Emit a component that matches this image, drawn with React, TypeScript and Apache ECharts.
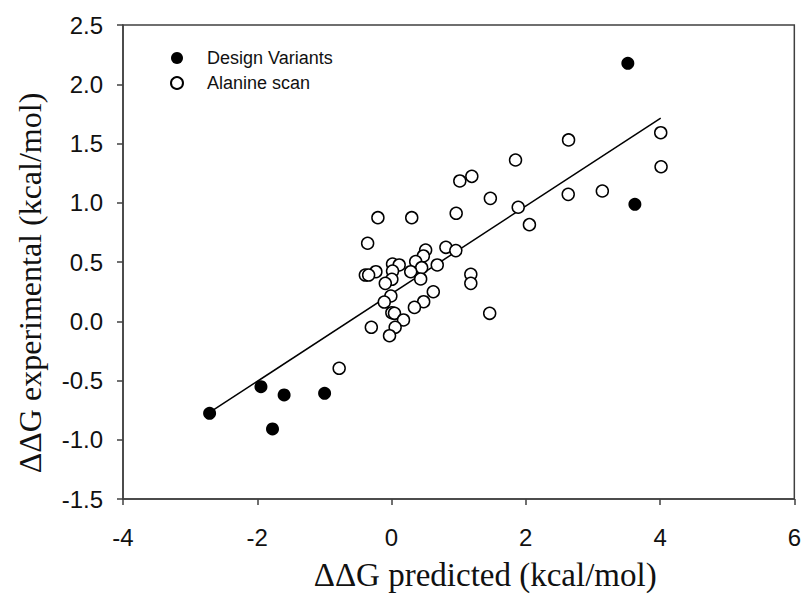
import React, { useEffect, useRef } from "react";
import * as echarts from "echarts";

const designX = [-2.71, -1.945, -1.6, -1.773, -0.997, 3.52, 3.625];
const designY = [-0.777, -0.552, -0.622, -0.909, -0.608, 2.177, 0.987];

const alanineX = [
  2.637, 4.01, 4.015, 2.632, 3.14, 1.847, 1.017, 1.196, 1.472, 1.887, 2.054,
  -0.203, 0.301, 0.963, -0.356, 0.508, 0.474, 0.81, 0.958, 0.36, 0.449, 0.681,
  0.286, 0.434, 0.015, 0.114, -0.233, 0.015, 0.005, -0.39, -0.341, -0.093,
  1.181, 1.181, -0.01, -0.108, 0.622, 0.479, 0.341, 0.005, 0.044, 0.178,
  -0.301, 0.054, -0.03, 1.462, -0.78,
];
const alanineY = [
  1.53, 1.591, 1.304, 1.071, 1.099, 1.361, 1.184, 1.223, 1.037, 0.962, 0.815,
  0.874, 0.874, 0.911, 0.658, 0.601, 0.551, 0.624, 0.596, 0.503, 0.452, 0.475,
  0.418, 0.357, 0.483, 0.475, 0.418, 0.424, 0.354, 0.39, 0.39, 0.32, 0.396,
  0.32, 0.213, 0.162, 0.249, 0.165, 0.117, 0.072, 0.067, 0.011, -0.051, -0.051,
  -0.122, 0.067, -0.397,
];

const fitX = [-2.71, 4.01];
const fitY = [-0.77, 1.715];

const seriesNames = ["Design Variants", "Alanine scan"];
const xTitle = "ΔΔG predicted (kcal/mol)";
const yTitle = "ΔΔG experimental (kcal/mol)";

export default function App() {
  const ref = useRef<HTMLDivElement>(null);
  useEffect(() => {
    document.body.style.margin = "0";
    if (!ref.current) return;
    const chart = echarts.init(ref.current, null, { renderer: "svg" });
    const sans = "'Liberation Sans', Arial, sans-serif";
    const serif = "'Liberation Serif', 'Times New Roman', serif";
    chart.setOption({
      animation: false,
      backgroundColor: "#ffffff",
      grid: {
        left: 123,
        right: 6,
        top: 25,
        bottom: 98,
        show: true,
        borderColor: "#404040",
        borderWidth: 1.5,
      },
      legend: {
        data: seriesNames,
        orient: "vertical",
        left: 165,
        top: 44,
        itemWidth: 50,
        itemHeight: 12,
        itemGap: 7,
        textStyle: { fontFamily: sans, fontSize: 18, color: "#111" },
      },
      xAxis: {
        type: "value",
        min: -4,
        max: 6,
        interval: 2,
        splitLine: { show: false },
        axisLine: { onZero: false, lineStyle: { color: "#404040", width: 1.5 } },
        axisTick: { length: 6, lineStyle: { color: "#404040", width: 1.5 } },
        axisLabel: { fontFamily: sans, fontSize: 24, color: "#111", margin: 26 },
        name: xTitle,
        nameLocation: "middle",
        nameGap: 59,
        nameTextStyle: {
          fontFamily: serif,
          fontSize: 33,
          color: "#111",
          padding: [0, 0, 0, 53],
        },
      },
      yAxis: {
        type: "value",
        min: -1.5,
        max: 2.5,
        interval: 0.5,
        splitLine: { show: false },
        axisLine: { onZero: false, lineStyle: { color: "#404040", width: 1.5 } },
        axisTick: { length: 6, lineStyle: { color: "#404040", width: 1.5 } },
        axisLabel: {
          fontFamily: sans,
          fontSize: 24,
          color: "#111",
          margin: 20,
          formatter: (v: number) => v.toFixed(1),
        },
        name: yTitle,
        nameLocation: "middle",
        nameGap: 77,
        nameTextStyle: {
          fontFamily: serif,
          fontSize: 32,
          color: "#111",
          padding: [0, 42, 0, 0],
        },
      },
      series: [
        {
          name: "fit",
          type: "line",
          data: fitX.map((x, i) => [x, fitY[i]]),
          showSymbol: false,
          symbol: "none",
          lineStyle: { color: "#000", width: 1.5 },
          z: 1,
        },
        {
          name: seriesNames[1],
          type: "scatter",
          data: alanineX.map((x, i) => [x, alanineY[i]]),
          symbol: "circle",
          symbolSize: 12,
          itemStyle: { color: "#ffffff", borderColor: "#000", borderWidth: 1.5, opacity: 1 },
          z: 2,
        },
        {
          name: seriesNames[0],
          type: "scatter",
          data: designX.map((x, i) => [x, designY[i]]),
          symbol: "circle",
          symbolSize: 13,
          itemStyle: { color: "#000", opacity: 1 },
          z: 3,
        },
      ],
    });
    return () => chart.dispose();
  }, []);
  return <div ref={ref} style={{ width: 804, height: 597 }} />;
}
